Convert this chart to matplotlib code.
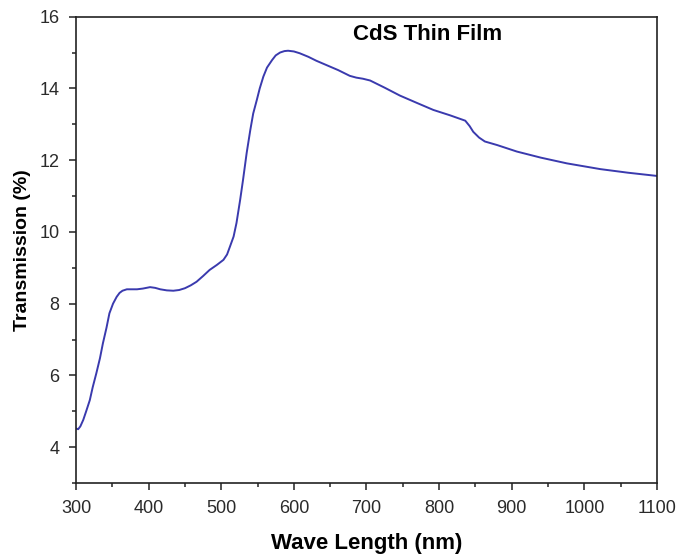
import numpy as np
import matplotlib
matplotlib.use("Agg")
import matplotlib.pyplot as plt
from matplotlib.ticker import MultipleLocator

plt.rcParams['font.family'] = ['Liberation Sans', 'DejaVu Sans']

# transmission spectrum
wavelength = [300, 303, 306, 310, 314, 319, 323, 328, 333, 337, 342, 346, 351, 356, 360,
              364, 370, 377, 384, 392, 402, 409, 416, 425, 434, 442, 450, 458, 466, 475,
              484, 494, 503, 508, 512, 517, 521, 526, 530, 535, 540, 544, 549, 553, 558,
              563, 570, 575, 581, 587, 592, 600, 608, 620, 631, 646, 661, 668, 677, 686,
              695, 705, 725, 746, 770, 792, 815, 836, 842, 847, 855, 863, 880, 907, 940,
              976, 1022, 1060, 1100]
transmission = [4.52, 4.50, 4.58, 4.76, 5.00, 5.31, 5.67, 6.06, 6.48, 6.89, 7.33, 7.73,
                8.00, 8.19, 8.30, 8.36, 8.40, 8.40, 8.40, 8.42, 8.46, 8.44, 8.40, 8.37,
                8.36, 8.38, 8.43, 8.51, 8.61, 8.77, 8.94, 9.08, 9.22, 9.37, 9.59, 9.87,
                10.25, 10.89, 11.45, 12.20, 12.84, 13.30, 13.68, 14.00, 14.33, 14.58,
                14.79, 14.92, 15.00, 15.04, 15.05, 15.03, 14.98, 14.88, 14.77, 14.64,
                14.51, 14.44, 14.35, 14.30, 14.27, 14.22, 14.02, 13.80, 13.59, 13.40,
                13.25, 13.10, 12.95, 12.79, 12.63, 12.52, 12.42, 12.24, 12.07, 11.91,
                11.75, 11.65, 11.56]

fig = plt.figure(figsize=(6.78, 5.55), dpi=100)
ax = fig.add_axes([0.1121, 0.1297, 0.8569, 0.8403])

ax.plot(wavelength, transmission, color='#3a3aae', lw=1.4)

ax.set_xlim(300, 1100)
ax.set_ylim(3, 16)
ax.xaxis.set_major_locator(MultipleLocator(100))
ax.xaxis.set_minor_locator(MultipleLocator(50))
ax.yaxis.set_major_locator(MultipleLocator(2))
ax.yaxis.set_minor_locator(MultipleLocator(1))
ax.tick_params(which='both', direction='out', top=False, right=False, width=1.1,
               labelsize=13, labelcolor='#2a2a2a', color='#222222', pad=7)
ax.tick_params(which='major', length=5)
ax.tick_params(which='minor', length=3)
for s in ax.spines.values():
    s.set_linewidth(1.2)
    s.set_color('#222222')

ax.set_xlabel('Wave Length (nm)', fontsize=16, fontweight='bold', labelpad=12)
ax.set_ylabel('Transmission (%)', fontsize=14, fontweight='bold', labelpad=6)
ax.text(784, 15.5, 'CdS Thin Film', fontsize=16, fontweight='bold', ha='center', va='center')

fig.savefig('out.png', dpi=100)
